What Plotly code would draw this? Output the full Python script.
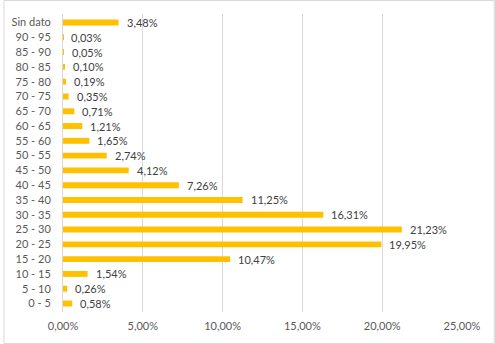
import plotly.graph_objects as go

categories = ["0 - 5", "5 - 10", "10 - 15", "15 - 20", "20 - 25", "25 - 30", "30 - 35",
              "35 - 40", "40 - 45", "45 - 50", "50 - 55", "55 - 60", "60 - 65", "65 - 70",
              "70 - 75", "75 - 80", "80 - 85", "85 - 90", "90 - 95", "Sin dato"]
values = [0.58, 0.26, 1.54, 10.47, 19.95, 21.23, 16.31, 11.25, 7.26, 4.12, 2.74, 1.65,
          1.21, 0.71, 0.35, 0.19, 0.10, 0.05, 0.03, 3.48]
tick_vals = [0, 0.05, 0.10, 0.15, 0.20, 0.25]

fracs = [v / 100 for v in values]

W, H = 495, 344
L, R, T, B = 60, 33, 14, 32
pw, ph = W - L - R, H - T - B

fig = go.Figure(go.Bar(
    x=fracs, y=categories, orientation="h",
    marker=dict(color="#FFC000", line=dict(width=0)),
    hoverinfo="x+y",
))

annotations = [dict(x=f, y=c, xref="x", yref="y", text=f"{v:.2f}%".replace(".", ","),
                    showarrow=False, xanchor="left", yanchor="middle", xshift=6,
                    font=dict(color="#404040", size=11, family="Lato"))
               for f, v, c in zip(fracs, values, categories)]

fig.update_layout(
    width=W, height=H,
    margin=dict(l=L, r=R, t=T, b=B),
    paper_bgcolor="white", plot_bgcolor="white",
    separators=",.",
    bargap=0.6,
    showlegend=False,
    font=dict(family="Lato", size=11, color="#595959"),
    xaxis=dict(range=[0, 0.25], tickvals=tick_vals, tickformat=".2%",
               showgrid=True, gridcolor="#D9D9D9", gridwidth=1,
               zeroline=False, showline=False, ticks="", ticklabelstandoff=6,
               tickfont=dict(size=11, color="#595959")),
    yaxis=dict(type="category", categoryorder="array", categoryarray=categories,
               showgrid=False, zeroline=False, showline=True, linecolor="#D9D9D9",
               ticks="", ticklabelstandoff=9,
               tickfont=dict(size=11, color="#595959")),
    annotations=annotations,
    shapes=[dict(type="rect", xref="paper", yref="paper",
                 x0=(0.5 - L) / pw, x1=(W - 0.5 - L) / pw,
                 y0=-(H - 0.5 - (H - B)) / ph, y1=(H - B - 0.5) / ph,
                 line=dict(color="#D9D9D9", width=1), fillcolor="rgba(0,0,0,0)",
                 layer="below")],
)

fig.write_html("out.html")
